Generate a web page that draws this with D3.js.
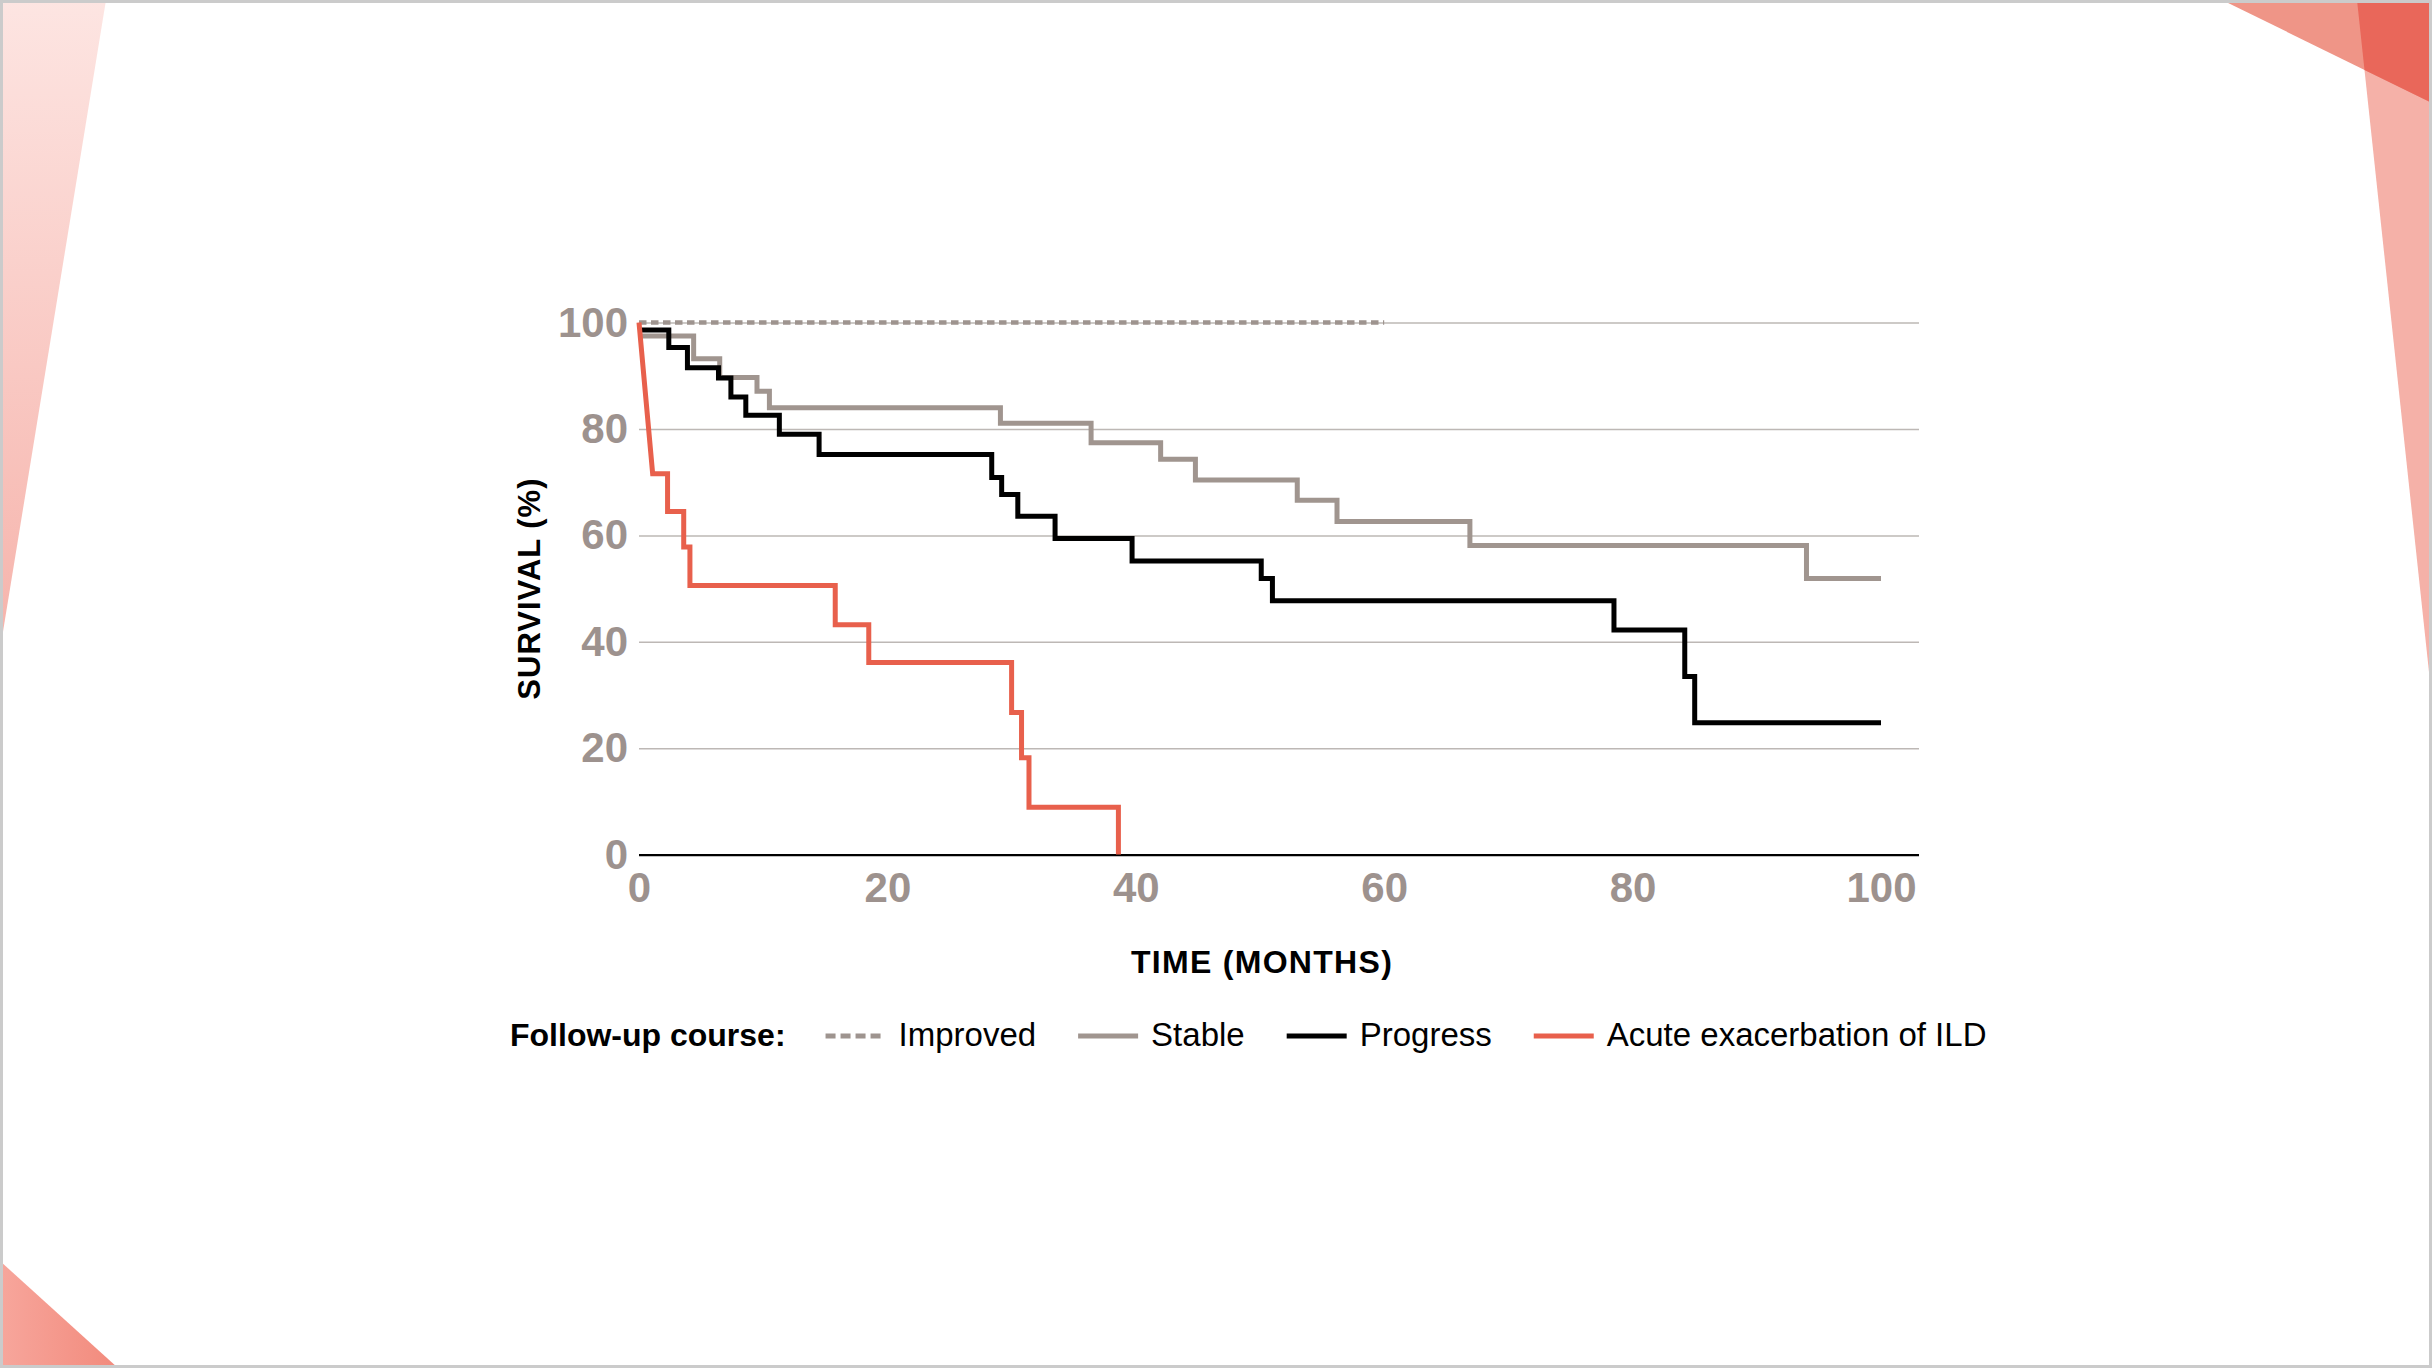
<!DOCTYPE html>
<meta charset="utf-8">
<style type="text/css">
  body { margin: 0; background: white; }
  svg { display: block; }
  text { font-family: 'Liberation Sans', Arial, sans-serif; }
</style>
<script src="https://cdn.jsdelivr.net/npm/d3@7"></script>
<div id="chart"></div>
<script>

// follow-up course groups (Kaplan-Meier)
var improvedTimes = [0, 60];
var improvedSurv  = [100, 100];

var stableTimes = [0, 4.4, 6.5, 9.5, 10.5, 29.1, 36.4, 42.0, 44.8, 53.0, 56.2, 66.9, 94.0, 100];
var stableSurv  = [97.5, 93.2, 89.7, 87.1, 84.0, 81.1, 77.4, 74.3, 70.4, 66.6, 62.6, 58.1, 51.9, 51.9];

var progressTimes = [0, 2.4, 3.9, 6.4, 7.4, 8.6, 11.3, 14.5, 28.4, 29.2, 30.5, 33.5, 39.7, 50.1, 51.0, 78.5, 84.2, 85.0, 100];
var progressSurv  = [98.6, 95.3, 91.5, 89.6, 86.0, 82.6, 79.0, 75.2, 70.9, 67.7, 63.6, 59.4, 55.2, 51.9, 47.7, 42.2, 33.5, 24.8, 24.8];

var acuteTimes = [0, 1.1, 2.3, 3.6, 4.1, 15.8, 18.5, 30.0, 30.8, 31.4, 38.6];
var acuteSurv  = [100, 71.6, 64.5, 57.8, 50.6, 43.2, 36.1, 26.7, 18.2, 8.9, 0];

var xTicks = [0, 20, 40, 60, 80, 100];
var yTicks = [0, 20, 40, 60, 80, 100];

var legendLabels = ["Improved", "Stable", "Progress", "Acute exacerbation of ILD"];
var legendTitle = "Follow-up course:";

var W = 2432, H = 1368;
var plotLeft = 639, plotRight = 1881, gridRight = 1919;
var plotTop = 322.6, plotBottom = 854.6;

var svg = d3.select("#chart").append("svg")
  .attr("width", W)
  .attr("height", H);

// --- slide decorations ---
var defs = svg.append("defs");
var g1 = defs.append("linearGradient").attr("id", "leftband")
  .attr("x1", 0).attr("y1", 0).attr("x2", 0).attr("y2", 1);
g1.append("stop").attr("offset", "0%").attr("stop-color", "#fde5e2");
g1.append("stop").attr("offset", "100%").attr("stop-color", "#f6b3ab");
var g2 = defs.append("linearGradient").attr("id", "corner")
  .attr("x1", 0).attr("y1", 0).attr("x2", 1).attr("y2", 0);
g2.append("stop").attr("offset", "0%").attr("stop-color", "#f7a69c");
g2.append("stop").attr("offset", "100%").attr("stop-color", "#f28a7c");

function poly(pts, fill) {
  svg.append("polygon")
    .attr("points", pts.map(function(p){ return p.join(","); }).join(" "))
    .style("fill", fill);
}
poly([[0,0],[106,0],[0,650]], "url(#leftband)");
poly([[0,1261],[0,1368],[118,1368]], "url(#corner)");
poly([[2357,0],[2432,0],[2432,700]], "#f5b1a8");
poly([[2222,0],[2432,0],[2432,103]], "#ef9587");
poly([[2357,0],[2432,0],[2432,103],[2364.5,69.9]], "#e9675a");

svg.append("rect")
  .attr("x", 1.5).attr("y", 1.5)
  .attr("width", W - 3).attr("height", H - 3)
  .style("fill", "none")
  .style("stroke", "#cbcbcb")
  .style("stroke-width", 3);

// --- scales ---
var x = d3.scaleLinear().domain([0, 100]).range([plotLeft, plotRight]);
var y = d3.scaleLinear().domain([0, 100]).range([plotBottom, plotTop]);

// y axis with gridlines
var yAxis = svg.append("g")
  .attr("transform", "translate(" + plotLeft + ",0)")
  .call(d3.axisLeft(y).tickValues(yTicks).tickSize(-(gridRight - plotLeft)).tickPadding(11));
yAxis.select(".domain").remove();
yAxis.selectAll(".tick line")
  .style("stroke", function(d){ return d === 0 ? "#000" : "#bdb8b5"; })
  .style("stroke-width", function(d){ return d === 0 ? 2.2 : 1.5; });
yAxis.selectAll(".tick text")
  .style("font-family", "'Liberation Sans', Arial, sans-serif")
  .style("font-size", "42px")
  .style("font-weight", "bold")
  .style("fill", "#9d928e");

// x axis labels
var xAxis = svg.append("g")
  .attr("transform", "translate(0," + plotBottom + ")")
  .call(d3.axisBottom(x).tickValues(xTicks).tickSize(0).tickPadding(17.5));
xAxis.select(".domain").remove();
xAxis.selectAll(".tick text")
  .style("font-family", "'Liberation Sans', Arial, sans-serif")
  .style("font-size", "42px")
  .style("font-weight", "bold")
  .style("fill", "#9d928e");

// axis titles
svg.append("text")
  .attr("x", (plotLeft + plotRight) / 2 + 2)
  .attr("y", 973)
  .attr("text-anchor", "middle")
  .style("font-size", "32px")
  .style("font-weight", "bold")
  .style("letter-spacing", "1.3px")
  .text("TIME (MONTHS)");

svg.append("text")
  .attr("transform", "translate(540," + (plotTop + plotBottom) / 2 + ") rotate(-90)")
  .attr("text-anchor", "middle")
  .style("font-size", "31px")
  .style("font-weight", "bold")
  .style("letter-spacing", "1px")
  .text("SURVIVAL (%)");

// --- survival curves ---
function stepPoints(times, surv, slantFirst) {
  var pts = [[times[0], surv[0]]];
  for (var i = 1; i < times.length; i++) {
    if (!(slantFirst && i === 1)) pts.push([times[i], surv[i - 1]]);
    pts.push([times[i], surv[i]]);
  }
  return pts;
}

var line = d3.line()
  .x(function(d){ return x(d[0]); })
  .y(function(d){ return y(d[1]); });

var series = [
  {name: "Improved", pts: stepPoints(improvedTimes, improvedSurv), color: "#9e948f", width: 4.5, dash: "7.5,4.5"},
  {name: "Stable",   pts: stepPoints(stableTimes, stableSurv),     color: "#a0958f", width: 5,   dash: null},
  {name: "Progress", pts: stepPoints(progressTimes, progressSurv), color: "#000000", width: 5,   dash: null},
  {name: "Acute exacerbation of ILD", pts: stepPoints(acuteTimes, acuteSurv, true), color: "#e8604c", width: 5, dash: null}
];

svg.selectAll("path.km")
  .data(series)
  .enter()
  .append("path")
    .attr("class", "km")
    .attr("d", function(d){ return line(d.pts); })
    .style("fill", "none")
    .style("stroke", function(d){ return d.color; })
    .style("stroke-width", function(d){ return d.width; })
    .style("stroke-dasharray", function(d){ return d.dash; })
    .style("stroke-linejoin", "miter");

// --- legend ---
var legY = 1036, legBase = 1046;
var title = svg.append("text")
  .attr("x", 510).attr("y", legBase)
  .style("font-size", "32px")
  .style("font-weight", "bold")
  .text(legendTitle);

var cx = 510 + title.node().getComputedTextLength() + 40;
legendLabels.forEach(function(lab, i) {
  var s = series[i];
  svg.append("line")
    .attr("x1", cx).attr("x2", cx + 60)
    .attr("y1", legY).attr("y2", legY)
    .style("stroke", s.color)
    .style("stroke-width", 5)
    .style("stroke-dasharray", s.dash ? "10,5" : null);
  var t = svg.append("text")
    .attr("x", cx + 73).attr("y", legBase)
    .style("font-size", "33px")
    .text(lab);
  cx = cx + 73 + t.node().getComputedTextLength() + 42;
});

</script>
